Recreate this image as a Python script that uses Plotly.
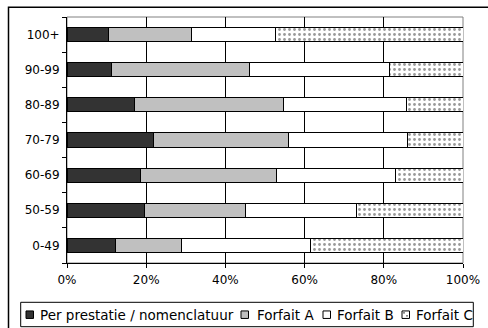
import plotly.graph_objects as go

categories = ["0-49", "50-59", "60-69", "70-79", "80-89", "90-99", "100+"]
per_prestatie = [12.2, 19.5, 18.5, 21.8, 17.0, 11.3, 10.5]
forfait_a = [16.6, 25.7, 34.5, 34.2, 37.6, 34.8, 21.0]
forfait_b = [32.8, 27.9, 30.0, 30.1, 31.1, 35.4, 21.2]
forfait_c = [38.4, 26.9, 17.0, 13.9, 14.3, 18.5, 47.3]
series_names = ["Per prestatie / nomenclatuur", "Forfait A", "Forfait B", "Forfait C"]
x_ticks = [0, 20, 40, 60, 80, 100]
x_tick_labels = ["0%", "20%", "40%", "60%", "80%", "100%"]

W, H = 488, 328
ML, MR, MT, MB = 67, 25, 17, 65
PW, PH = W - ML - MR, H - MT - MB


def px(x):
    return (x - ML) / PW


def py(y):
    return (H - MB - y) / PH


fig = go.Figure()
line = dict(color="black", width=1)
fig.add_trace(go.Bar(y=categories, x=per_prestatie, orientation="h", name=series_names[0],
                     marker=dict(color="#333333", line=line), showlegend=False))
fig.add_trace(go.Bar(y=categories, x=forfait_a, orientation="h", name=series_names[1],
                     marker=dict(color="#c0c0c0", line=line), showlegend=False))
fig.add_trace(go.Bar(y=categories, x=forfait_b, orientation="h", name=series_names[2],
                     marker=dict(color="white", line=line), showlegend=False))
fig.add_trace(go.Bar(y=categories, x=forfait_c, orientation="h", name=series_names[3],
                     marker=dict(color="white", line=line,
                                 pattern=dict(shape=".", fgcolor="#333333", bgcolor="white",
                                              size=5, solidity=0.25)),
                     showlegend=False))

shapes = []
# plot-area gray border
shapes.append(dict(type="rect", xref="paper", yref="paper", x0=0, x1=1, y0=0, y1=1,
                   line=dict(color="#808080", width=1), layer="below"))
# outer chart border (cropped on right/bottom)
shapes.append(dict(type="rect", xref="paper", yref="paper", x0=px(8.5), x1=px(700),
                   y0=py(500), y1=py(7.3), line=dict(color="black", width=1.5)))
# legend box
shapes.append(dict(type="rect", xref="paper", yref="paper", x0=px(20.7), x1=px(473.3),
                   y0=py(326.7), y1=py(302.3), line=dict(color="black", width=1),
                   fillcolor="white"))

leg_sym_x = [26, 241, 323, 402]
leg_txt_x = [37.5, 254.5, 334.5, 413.5]
leg_fill = ["#333333", "#c0c0c0", "white", "white"]
ly = 314.7
s = 7.5
annotations = []
for i, name in enumerate(series_names):
    x0 = leg_sym_x[i]
    shapes.append(dict(type="rect", xref="paper", yref="paper", x0=px(x0), x1=px(x0 + s),
                       y0=py(ly + s / 2), y1=py(ly - s / 2),
                       line=dict(color="black", width=1), fillcolor=leg_fill[i]))
    if i == 3:
        for dx, dy in [(2, 2), (5, 5)]:
            shapes.append(dict(type="rect", xref="paper", yref="paper",
                               x0=px(x0 + dx - 0.6), x1=px(x0 + dx + 0.6),
                               y0=py(ly - s / 2 + dy + 0.6), y1=py(ly - s / 2 + dy - 0.6),
                               line=dict(width=0), fillcolor="black"))
    annotations.append(dict(text=name, xref="paper", yref="paper", x=px(leg_txt_x[i]),
                            y=py(ly), xanchor="left", yanchor="middle", showarrow=False,
                            font=dict(family="DejaVu Sans", size=13.5, color="black")))

fig.update_layout(
    width=W, height=H,
    margin=dict(l=ML, r=MR, t=MT, b=MB, pad=0, autoexpand=False),
    barmode="stack", bargap=0.6,
    paper_bgcolor="white", plot_bgcolor="white",
    font=dict(family="DejaVu Sans", size=12, color="black"),
    shapes=shapes, annotations=annotations,
    xaxis=dict(range=[0, 100], tickvals=x_ticks, ticktext=x_tick_labels,
               showgrid=True, gridcolor="black", gridwidth=1, zeroline=False,
               showline=True, linecolor="black", linewidth=1,
               ticks="outside", ticklen=4, tickcolor="black", ticklabelstandoff=2,
               automargin=False, fixedrange=True),
    yaxis=dict(type="category", categoryorder="array", categoryarray=categories,
               showgrid=False, zeroline=False, showline=True, linecolor="black", linewidth=1,
               ticks="outside", ticklen=4, tickcolor="black", tickson="boundaries",
               ticklabelstandoff=4, automargin=False, fixedrange=True),
    showlegend=False,
)

fig.write_html("out.html", config={"displayModeBar": False},
               post_script="document.body.style.margin='0';document.body.style.overflow='hidden';")
